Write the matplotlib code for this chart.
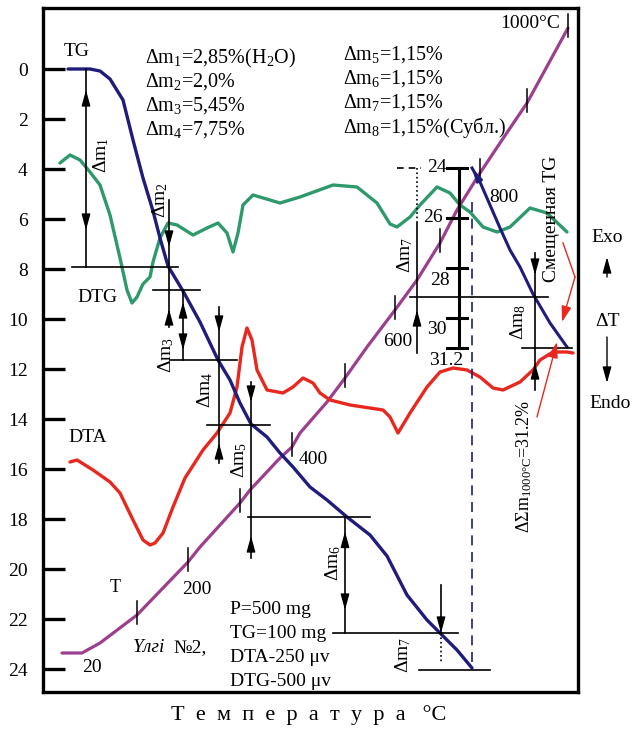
import numpy as np
import matplotlib.pyplot as plt

plt.rcParams['font.family'] = ['Liberation Serif', 'DejaVu Serif']
plt.rcParams['mathtext.fontset'] = 'custom'
plt.rcParams['mathtext.rm'] = 'Liberation Serif'
plt.rcParams['mathtext.it'] = 'Liberation Serif:italic'
plt.rcParams['lines.solid_joinstyle'] = 'round'

# horizontal axis = recorder time (arbitrary units), vertical = mass loss TG, %
tg_x = [68, 90, 100, 110, 123, 133, 143, 153, 160, 168, 183, 200, 218, 230, 240, 251,
        267, 280, 293, 310, 327, 347, 370, 387, 407, 427, 440, 457, 472]
tg_y = [0, 0, 0.08, 0.4, 1.24, 2.84, 4.36, 5.68, 6.76, 7.88, 8.88, 10.12, 11.64, 12.44,
        13.36, 14.2, 14.72, 15.36, 15.92, 16.72, 17.24, 17.92, 18.64, 19.48, 21.04,
        22.04, 22.56, 23.24, 23.96]

# shifted TG, read on the inner 24..31.2 scale
tg2_x = [472, 480, 490, 500, 510, 520, 533, 550, 567]
tg2_val = [24.0, 24.56, 25.48, 26.4, 27.28, 27.96, 29.04, 30.2, 31.16]
inner_ticks = [24, 26, 28, 30, 31.2]
inner_offset = 20.04

dtg_x = [60, 70, 80, 90, 100, 110, 120, 127, 132, 137, 143, 150, 153, 160, 168, 177, 193,
         207, 218, 227, 233, 238, 243, 253, 280, 300, 333, 357, 377, 390, 397, 410, 420,
         437, 450, 460, 470, 483, 497, 510, 530, 547, 567]
dtg_y = [3.76, 3.44, 3.64, 4.12, 4.64, 5.84, 7.56, 8.84, 9.36, 9.12, 8.6, 8.32, 7.72, 6.76,
         6.16, 6.24, 6.64, 6.36, 6.16, 6.56, 7.32, 6.56, 5.44, 5.04, 5.36, 5.12, 4.64, 4.72,
         5.36, 6.2, 6.32, 5.92, 5.44, 4.72, 4.96, 5.44, 5.72, 6.32, 6.52, 6.32, 5.56, 5.76, 6.52]

dta_x = [70, 77, 93, 110, 120, 133, 143, 150, 155, 163, 173, 185, 203, 217, 230, 237, 242,
         247, 252, 257, 267, 283, 293, 303, 313, 320, 330, 350, 383, 390, 398, 410, 427,
         440, 453, 467, 480, 493, 503, 520, 533, 540, 553, 567, 573]
dta_y = [15.72, 15.64, 16.04, 16.52, 16.96, 18.04, 18.84, 19.04, 18.96, 18.56, 17.52, 16.36,
         15.24, 14.56, 13.76, 12.72, 11.12, 10.36, 10.84, 12.04, 12.84, 12.96, 12.72, 12.36,
         12.56, 12.96, 13.24, 13.44, 13.64, 13.92, 14.56, 13.76, 12.72, 12.12, 11.96, 12.04,
         12.32, 12.76, 12.84, 12.52, 12.04, 11.64, 11.32, 11.32, 11.36]

t_x = [62, 82, 100, 137, 188, 200, 240, 250, 280, 292, 300, 327, 345, 367, 395, 417, 440,
       457, 480, 500, 527, 568]
t_y = [23.36, 23.36, 22.96, 21.84, 19.72, 19.12, 17.36, 16.84, 15.56, 15.12, 14.56, 13.32,
       12.36, 11.12, 9.64, 8.44, 6.96, 5.64, 4.16, 2.96, 1.36, -1.64]
t_ticks = [137, 188, 240, 292, 345, 395, 440, 480, 527, 568]

c_tg = '#201c7c'
c_dtg = '#2e9a6c'
c_dta = '#e8281f'
c_t = '#9c3f8e'

fig = plt.figure(figsize=(6.44, 7.34), dpi=100)
ax = fig.add_axes([43 / 644, 42 / 734, 535 / 644, 684 / 734])
ax.set_xlim(43, 578)
ax.set_ylim(24.92, -2.44)
for s in ax.spines.values():
    s.set_linewidth(2.4)
ax.set_xticks([])
ax.set_yticks(range(0, 25, 2))
ax.tick_params(axis='y', direction='in', length=16, width=2.4, labelsize=14, pad=11)

ax.plot(t_x, t_y, color=c_t, lw=2.3, solid_capstyle='round')
for tx in t_ticks:
    ty = np.interp(tx, t_x, t_y)
    ax.plot([tx, tx], [ty - 0.55, ty + 0.35], color='k', lw=1.1)
ax.plot(dtg_x, dtg_y, color=c_dtg, lw=2.4, solid_capstyle='round')
ax.plot(dta_x, dta_y, color=c_dta, lw=2.4, solid_capstyle='round')
ax.plot(tg_x, tg_y, color=c_tg, lw=2.4, solid_capstyle='round')
tg2_y = np.array(tg2_val) - inner_offset
ax.plot(tg2_x, tg2_y, color=c_tg, lw=2.2)
ax.annotate('', xy=(tg2_x[0], tg2_y[0]), xytext=(tg2_x[1], tg2_y[1]),
            arrowprops=dict(arrowstyle='-|>,head_length=0.8,head_width=0.2', color=c_tg,
                            lw=1.5, mutation_scale=10, shrinkA=0, shrinkB=0))
ax.plot([472, 472], [5.3, 23.96], color=c_tg, lw=1.2, dashes=(6, 4))

# inner scale of shifted TG
iy = np.array(inner_ticks) - inner_offset
ax.plot([459, 459], [iy[0], iy[-1]], color='k', lw=2.2)
for v, y in zip(inner_ticks, iy):
    ax.plot([447, 467], [y, y], color='k', lw=2.2)
ax.text(447, iy[0], '24', fontsize=14, ha='right', va='center')
ax.text(443, iy[1], '26', fontsize=14, ha='right', va='center')
ax.text(450, iy[2] + 0.5, '28', fontsize=14, ha='right', va='center')
ax.text(447, iy[3] + 0.45, '30', fontsize=14, ha='right', va='center')
ax.text(463, iy[4] + 0.5, '31.2', fontsize=14, ha='right', va='center')
ax.plot([397, 421], [iy[0], iy[0]], color='k', lw=1.2, dashes=(4, 3))


def head(x, y, up, color='k'):
    d = 0.6 if up else -0.6
    ax.annotate('', xy=(x, y), xytext=(x, y + d),
                arrowprops=dict(arrowstyle='-|>,head_length=0.8,head_width=0.22', color=color,
                                lw=1, mutation_scale=12, shrinkA=0, shrinkB=0))


def seg(x0, y0, x1, y1, **kw):
    ax.plot([x0, x1], [y0, y1], color='k', lw=kw.pop('lw', 1.2), **kw)


# step construction lines
seg(86, 0, 86, 7.92); head(86, 0.84, True); head(86, 6.44, False)
seg(72, 7.92, 178, 7.92)
seg(169, 5.24, 169, 7.92); head(169, 7.12, False)
seg(153, 8.84, 200, 8.84)
seg(169, 7.92, 169, 10.32); head(169, 9.6, True)
seg(183, 8.84, 183, 11.64); head(183, 9.32, True); head(183, 11.24, False)
seg(170, 11.64, 237, 11.64)
seg(219, 9.52, 219, 15.76); head(219, 10.52, False); head(219, 14.96, True)
seg(207, 14.24, 270, 14.24)
seg(251, 12.52, 251, 19.56); head(251, 13.32, False); head(251, 18.68, True)
seg(248, 17.92, 370, 17.92)
seg(345, 17.92, 345, 22.56); head(345, 18.5, True); head(345, 21.64, False)
seg(333, 22.56, 458, 22.56)
seg(441, 20.64, 441, 22.56); head(441, 22.56, False)
seg(441, 22.56, 441, 23.76, ls=':')
seg(419, 24.04, 490, 24.04)
seg(417, 3.96, 417, 6.04, ls=':')
seg(417, 6.12, 417, 11.36); head(417, 9.64, True)
seg(410, 9.12, 548, 9.12)
seg(535, 7.36, 535, 12.84); head(535, 8.24, False); head(535, 11.76, True)
seg(522, 11.16, 572, 11.16)

dm = [('Δm$_1$', 101, 3.44), ('Δm$_2$', 160, 5.24), ('Δm$_3$', 166, 11.44),
      ('Δm$_4$', 205, 12.84), ('Δm$_5$', 239, 15.64), ('Δm$_6$', 333, 19.76),
      ('Δm$_7$', 405, 7.44), ('Δm$_7$', 403, 23.44), ('Δm$_8$', 518, 10.12)]
for s, x, y in dm:
    ax.text(x, y, s, fontsize=14, rotation=90, ha='center', va='center')

left_notes = ['Δm$_1$=2,85%(H$_2$O)', 'Δm$_2$=2,0%', 'Δm$_3$=5,45%', 'Δm$_4$=7,75%']
right_notes = ['Δm$_5$=1,15%', 'Δm$_6$=1,15%', 'Δm$_7$=1,15%', 'Δm$_8$=1,15%(Субл.)']
for i, s in enumerate(left_notes):
    ax.text(145, -0.44 + i * 0.96, s, fontsize=14.5, va='center')
for i, s in enumerate(right_notes):
    ax.text(343, -0.56 + i * 0.96, s, fontsize=14.5, va='center')

ax.text(77, -0.68, 'TG', fontsize=14, ha='center', va='center')
ax.text(97, 9.12, 'DTG', fontsize=14, ha='center', va='center')
ax.text(88, 14.76, 'DTA', fontsize=14, ha='center', va='center')
ax.text(115, 20.72, 'T', fontsize=13, ha='center', va='center')
for s, x, y in [('20', 92, 23.96), ('200', 197, 20.84), ('400', 313, 15.64),
                ('600', 398, 10.92), ('800', 504, 5.12)]:
    ax.text(x, y, s, fontsize=14, ha='center', va='center')
ax.text(560, -1.84, '1000°C', fontsize=14, ha='right', va='center')
ax.text(133, 23.16, 'Үлгі', fontsize=14, style='italic', va='center')
ax.text(173, 23.16, '№2,', fontsize=14, va='center')
for i, s in enumerate(['P=500 mg', 'TG=100 mg', 'DTA-250 μv', 'DTG-500 μv']):
    ax.text(230, 21.64 + i * 0.96, s, fontsize=14, va='center')
ax.text(552, 6.0, 'Смещенная TG', fontsize=14, rotation=90, ha='center', va='center')
ax.text(524, 18.56, 'ΔΣm$_{\\mathrm{1000°C}}$=31.2%', fontsize=13, rotation=90,
        ha='center', va='bottom')

# red pointers
ax.plot([563, 575], [6.96, 8.32], color=c_dta, lw=1)
ax.annotate('', xy=(562, 10.12), xytext=(575, 8.32),
            arrowprops=dict(arrowstyle='-|>,head_length=0.8,head_width=0.25', color=c_dta,
                            lw=1, mutation_scale=12, shrinkA=0, shrinkB=0))
ax.annotate('', xy=(557, 10.92), xytext=(537, 13.92),
            arrowprops=dict(arrowstyle='-|>,head_length=0.8,head_width=0.25', color=c_dta,
                            lw=1, mutation_scale=12, shrinkA=0, shrinkB=0))

# Exo / Endo marker outside the frame
ax.text(607, 6.72, 'Exo', fontsize=14, ha='center', va='center')
ax.text(607, 10.12, 'ΔT', fontsize=14, ha='center', va='center')
ax.text(610, 13.36, 'Endo', fontsize=14, ha='center', va='center')
for tail, tip in [(8.32, 7.52), (10.72, 12.56)]:
    ax.annotate('', xy=(607, tip), xytext=(607, tail), annotation_clip=False,
                arrowprops=dict(arrowstyle='-|>,head_length=0.8,head_width=0.22', color='k',
                                lw=1, mutation_scale=12, shrinkA=0, shrinkB=0))

fig.text(309 / 644, 1 - 715 / 734, 'Т  е  м  п  е  р  а  т  у  р  а   °C', fontsize=16,
         ha='center', va='center')

fig.savefig('out.png', dpi=100)
